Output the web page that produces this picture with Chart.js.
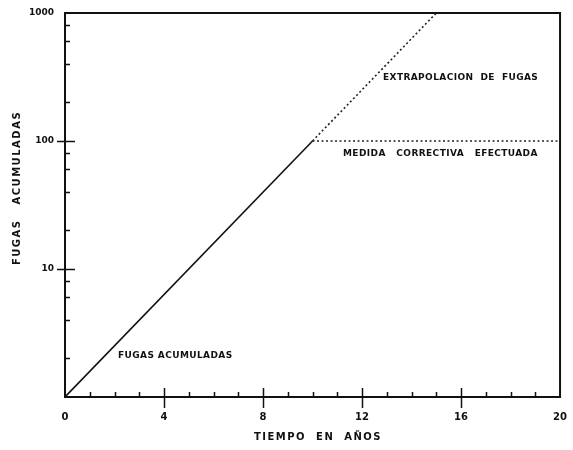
<!DOCTYPE html>
<html>
<head>
<meta charset="utf-8">
<script src="https://cdn.jsdelivr.net/npm/chart.js@4/dist/chart.umd.min.js"></script>
<style>
  html, body {margin: 0; padding: 0; background: #fff;}
  #wrap {width: 573px; height: 450px;}
</style>
</head>
<body>
<div id="wrap"><canvas id="chart1canvas"></canvas></div>
<script>
/* Data */
const acumX=[0, 10];
const acumY=[1, 100];
const extrapX=[10, 15];
const extrapY=[100, 1000];
const medidaX=[10, 20];
const medidaY=[100, 100];

/* Axis ticks */
const xLabels=[0, 4, 8, 12, 16, 20];
const xMajorTicks=[4, 8, 12, 16];
const xMinorTicks=[1, 2, 3, 5, 6, 7, 9, 10, 11, 13, 14, 15, 17, 18, 19];
const yLabels=[10, 100, 1000];
const yMajorTicks=[10, 100];
const yMinorTicks=[2, 4, 6, 8, 20, 40, 60, 80, 200, 400, 600, 800];

/* Texts */
const xTitle="TIEMPO  EN  AÑOS";
const yTitle="FUGAS   ACUMULADAS";
const labelAcum="FUGAS ACUMULADAS";
const labelExtrap="EXTRAPOLACION  DE  FUGAS";
const labelMedida="MEDIDA   CORRECTIVA   EFECTUADA";

const fontName="'DejaVu Sans', sans-serif";

function toPoints(xs, ys) {
  return xs.map((x,i)=>({x: x, y: ys[i]}));
}

/**
 * Draws frame, tick marks and the hand lettered texts.
 */
const paperPlugin={
  id: 'paper',
  afterDraw(chart) {
    const ctx=chart.ctx;
    const a=chart.chartArea;
    const xs=chart.scales.x;
    const ys=chart.scales.y;
    ctx.save();
    ctx.strokeStyle="#111";
    ctx.fillStyle="#111";

    /* Frame */
    ctx.lineWidth=2;
    ctx.strokeRect(a.left, a.top, a.right-a.left, a.bottom-a.top);

    /* x ticks */
    ctx.lineWidth=1.5;
    ctx.beginPath();
    xMinorTicks.forEach(v=>{
      const px=Math.round(xs.getPixelForValue(v))+0.5;
      ctx.moveTo(px, a.bottom); ctx.lineTo(px, a.bottom-5);
    });
    xMajorTicks.forEach(v=>{
      const px=Math.round(xs.getPixelForValue(v))+0.5;
      ctx.moveTo(px, a.bottom-9); ctx.lineTo(px, a.bottom+11);
    });
    /* y ticks */
    yMinorTicks.forEach(v=>{
      const py=Math.round(ys.getPixelForValue(v))+0.5;
      ctx.moveTo(a.left, py); ctx.lineTo(a.left+5, py);
    });
    yMajorTicks.forEach(v=>{
      const py=Math.round(ys.getPixelForValue(v))+0.5;
      ctx.moveTo(a.left-8, py); ctx.lineTo(a.left+10, py);
    });
    ctx.stroke();

    /* Axis titles */
    ctx.textAlign="center";
    ctx.textBaseline="middle";
    ctx.font="bold 10px "+fontName;
    ctx.letterSpacing="1.5px";
    ctx.fillText(xTitle, 318, 437);
    ctx.save();
    ctx.translate(17, 188);
    ctx.rotate(-Math.PI/2);
    ctx.fillText(yTitle, 0, 0);
    ctx.restore();

    /* Labels inside the plot */
    ctx.font="bold 9px "+fontName;
    ctx.letterSpacing="0.4px";
    ctx.textAlign="left";
    ctx.fillText(labelExtrap, 383, 78);
    ctx.fillText(labelMedida, 343, 154);
    ctx.fillText(labelAcum, 118, 356);
    ctx.restore();
  }
};

const chartData={
  datasets: [
    {data: toPoints(acumX, acumY), borderColor: "#111", borderWidth: 1.6, pointRadius: 0, showLine: true},
    {data: toPoints(extrapX, extrapY), borderColor: "#222", borderWidth: 1.6, borderDash: [2, 2.5], pointRadius: 0, showLine: true},
    {data: toPoints(medidaX, medidaY), borderColor: "#222", borderWidth: 1.6, borderDash: [2, 2.5], pointRadius: 0, showLine: true}
  ]
};

const chartOptions={
  responsive: true,
  maintainAspectRatio: false,
  animation: false,
  layout: {padding: {top: 13, right: 0, left: 0, bottom: 0}},
  scales: {
    x: {
      type: 'linear', min: 0, max: 20,
      grid: {display: false},
      border: {display: false},
      afterFit: scale=>{scale.height=53;},
      afterBuildTicks: scale=>{scale.ticks=xLabels.map(v=>({value: v}));},
      ticks: {padding: 6, color: "#111", font: {family: fontName, size: 10, weight: 'bold'}, callback: v=>String(v)}
    },
    y: {
      type: 'logarithmic', min: 1, max: 1000,
      grid: {display: false},
      border: {display: false},
      afterFit: scale=>{scale.width=65;},
      afterBuildTicks: scale=>{scale.ticks=yLabels.map(v=>({value: v}));},
      ticks: {padding: 3, color: "#111", font: {family: fontName, size: 9, weight: 'bold'}, callback: v=>String(v)}
    }
  },
  plugins: {legend: {display: false}, tooltip: {enabled: false}}
};

new Chart(document.getElementById('chart1canvas'), {type: 'scatter', data: chartData, options: chartOptions, plugins: [paperPlugin]});
</script>
</body>
</html>
